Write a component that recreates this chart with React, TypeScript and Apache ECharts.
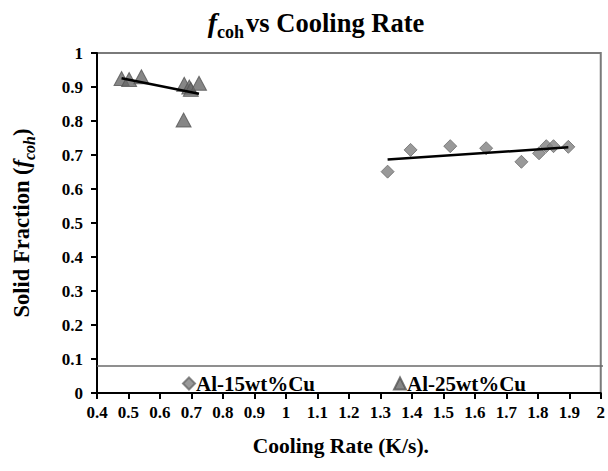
import React, { useEffect, useRef } from "react";
import * as echarts from "echarts";

const al15X = [1.323, 1.396, 1.522, 1.636, 1.748, 1.804, 1.827, 1.85, 1.897];
const al15Y = [0.651, 0.715, 0.726, 0.72, 0.68, 0.705, 0.726, 0.726, 0.724];
const al25X = [0.478, 0.502, 0.541, 0.677, 0.693, 0.698, 0.724, 0.675];
const al25Y = [0.925, 0.922, 0.93, 0.908, 0.9, 0.893, 0.911, 0.803];
const seriesNames = ["Al-15wt%Cu", "Al-25wt%Cu"];

function trend(xs: number[], ys: number[]) {
  const n = xs.length;
  const mx = xs.reduce((a, b) => a + b, 0) / n;
  const my = ys.reduce((a, b) => a + b, 0) / n;
  let sxy = 0, sxx = 0;
  for (let i = 0; i < n; i++) {
    sxy += (xs[i] - mx) * (ys[i] - my);
    sxx += (xs[i] - mx) * (xs[i] - mx);
  }
  const b = sxy / sxx;
  const a = my - b * mx;
  const x0 = Math.min(...xs), x1 = Math.max(...xs);
  return [[x0, a + b * x0], [x1, a + b * x1]];
}

const FONT = "Liberation Serif";

export default function App() {
  const ref = useRef<HTMLDivElement>(null);
  useEffect(() => {
    if (!ref.current) return;
    const chart = echarts.init(ref.current, undefined, { renderer: "svg" });
    const zip = (xs: number[], ys: number[]) => xs.map((x, i) => [x, ys[i]]);
    chart.setOption({
      animation: false,
      textStyle: { fontFamily: FONT },
      title: {
        text: "{f|f}{sub|coh}{t|vs Cooling Rate}",
        left: 311,
        textAlign: "center",
        top: 1,
        textStyle: {
          rich: {
            f: { fontFamily: FONT, fontSize: 28, fontStyle: "italic", color: "#000", verticalAlign: "bottom", lineHeight: 30 },
            sub: { fontFamily: FONT, fontSize: 18, fontWeight: "bold", color: "#000", verticalAlign: "bottom", lineHeight: 22, padding: [0, 2, -5, 0] },
            t: { fontFamily: FONT, fontSize: 26.5, fontWeight: "bold", color: "#000", verticalAlign: "bottom", lineHeight: 30 },
          },
        },
      },
      grid: {
        left: 97, right: 4, top: 53, bottom: 78,
        show: true, borderColor: "#7a7a7a", borderWidth: 2,
      },
      legend: {
        left: 177, top: 368, itemGap: 78,
        itemWidth: 12, itemHeight: 12,
        data: [
          { name: seriesNames[0], icon: "diamond" },
          { name: seriesNames[1], icon: "triangle" },
        ],
        textStyle: { fontFamily: FONT, fontSize: 21, fontWeight: "bold", color: "#000", padding: [0, 0, 0, -4] },
      },
      graphic: [
        { type: "line", shape: { x1: 97, y1: 366, x2: 603, y2: 366 }, style: { stroke: "#6a6a6a", lineWidth: 1.5 }, z: 10 },
      ],
      xAxis: {
        type: "value", min: 0.4, max: 2, interval: 0.1,
        name: "Cooling Rate (K/s).", nameLocation: "middle", nameGap: 42,
        nameTextStyle: { fontFamily: FONT, fontSize: 21.5, fontWeight: "bold", color: "#000", padding: [0, 16, 0, 0] },
        axisLine: { show: true, lineStyle: { color: "#000", width: 2 } },
        axisTick: { show: true, length: 6, lineStyle: { color: "#000", width: 2 } },
        axisLabel: { fontFamily: FONT, fontSize: 17, fontWeight: "bold", color: "#000", margin: 11, showMaxLabel: true, showMinLabel: true },
        splitLine: { show: false },
      },
      yAxis: {
        type: "value", min: 0, max: 1, interval: 0.1,
        name: "{n|Solid Fraction (}{f|f}{s|coh}{n|)}", nameLocation: "middle", nameGap: 64,
        nameTextStyle: {
          rich: {
            n: { fontFamily: FONT, fontSize: 22.5, fontWeight: "bold", color: "#000", verticalAlign: "bottom", lineHeight: 26 },
            f: { fontFamily: FONT, fontSize: 22.5, fontWeight: "bold", fontStyle: "italic", color: "#000", verticalAlign: "bottom", lineHeight: 26 },
            s: { fontFamily: FONT, fontSize: 16, fontWeight: "bold", fontStyle: "italic", color: "#000", verticalAlign: "bottom", lineHeight: 20, padding: [0, 0, -4, 0] },
          },
        },
        axisLine: { show: true, lineStyle: { color: "#000", width: 2 } },
        axisTick: { show: true, length: 6, lineStyle: { color: "#000", width: 2 } },
        axisLabel: { fontFamily: FONT, fontSize: 17, fontWeight: "bold", color: "#000", margin: 14 },
        splitLine: { show: false },
      },
      series: [
        {
          name: seriesNames[0], type: "scatter", symbol: "diamond", symbolSize: 13,
          itemStyle: { color: "#808080", borderColor: "#6a6a6a", borderWidth: 1 },
          data: zip(al15X, al15Y), z: 3,
        },
        {
          name: seriesNames[1], type: "scatter", symbol: "triangle", symbolSize: [15, 14],
          itemStyle: { color: "#686868", borderColor: "#555", borderWidth: 1 },
          data: zip(al25X, al25Y), z: 3,
        },
        {
          name: "trend15", type: "line", data: trend(al15X, al15Y), symbol: "none",
          lineStyle: { color: "#000", width: 2.5 }, z: 4, silent: true,
        },
        {
          name: "trend25", type: "line", data: trend(al25X, al25Y), symbol: "none",
          lineStyle: { color: "#000", width: 2.5 }, z: 4, silent: true,
        },
      ],
    });
    return () => chart.dispose();
  }, []);
  return <div ref={ref} style={{ width: 608, height: 471, position: "absolute", left: 0, top: 0 }} />;
}
